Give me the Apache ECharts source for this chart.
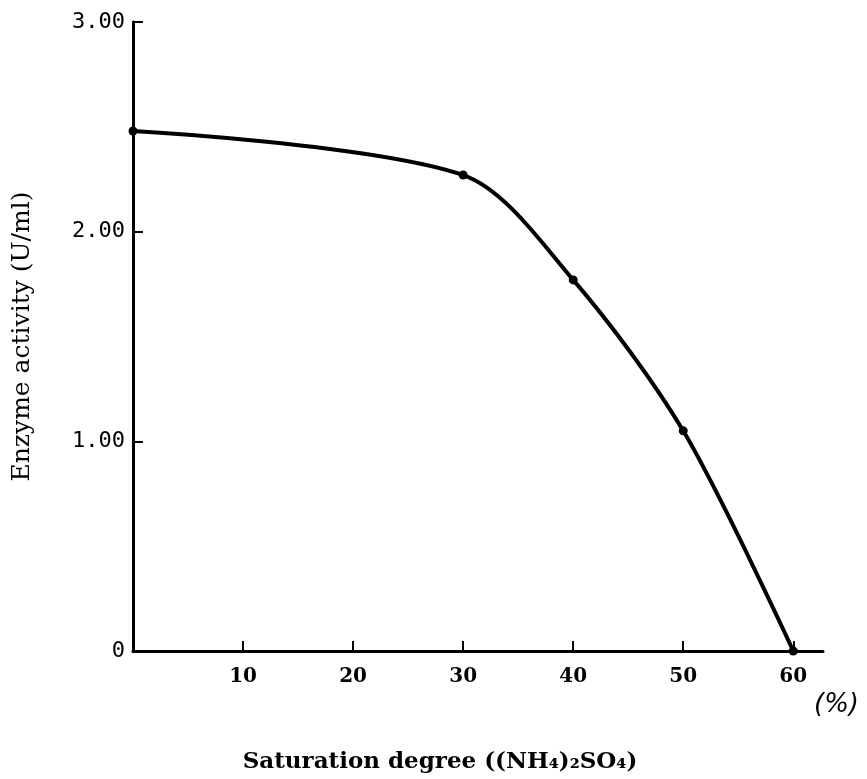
<!DOCTYPE html>
<html><head><meta charset="utf-8">
<script src="https://cdn.jsdelivr.net/npm/echarts@6/dist/echarts.min.js"></script>
<style>html,body{margin:0;padding:0;background:#fff}#c{width:867px;height:779px}</style>
</head><body><div id="c"></div>
<script>
const saturation = [0, 30, 40, 50, 60];
const activity = [2.48, 2.27, 1.77, 1.05, 0];
const xTicks = [10, 20, 30, 40, 50, 60];
const yTicks = [1, 2, 3];
const yLabels = [0, 1, 2, 3];
const xName = 'Saturation degree ((NH₄)₂SO₄)';
const yName = 'Enzyme activity (U/ml)';
const unitLabel = '(%)';

const chart = echarts.init(document.getElementById('c'));
chart.setOption({
  animation: false,
  backgroundColor: '#fff',
  grid: { left: 133, right: 44, top: 22, bottom: 126, containLabel: false },
  xAxis: {
    type: 'value', min: 0, max: 62.7,
    axisLine: { lineStyle: { color: '#000', width: 3 } },
    axisTick: { show: true, inside: true, length: 10, lineStyle: { color: '#000', width: 2 }, customValues: xTicks },
    axisLabel: { margin: 16, customValues: xTicks, fontFamily: 'DejaVu Serif', fontWeight: 'bold', fontSize: 20, color: '#000' },
    splitLine: { show: false },
    name: xName, nameLocation: 'middle', nameGap: 100,
    nameTextStyle: { fontFamily: 'DejaVu Serif', fontWeight: 'bold', fontSize: 23, color: '#000', padding: [0, 76, 0, 0] }
  },
  yAxis: {
    type: 'value', min: 0, max: 3,
    axisLine: { show: true, lineStyle: { color: '#000', width: 3 } },
    axisTick: { show: true, inside: true, length: 10, lineStyle: { color: '#000', width: 2 }, customValues: yTicks },
    axisLabel: { margin: 8, customValues: yLabels,
      formatter: v => v === 0 ? '0' : v.toFixed(2),
      fontFamily: 'DejaVu Sans Mono', fontSize: 22, color: '#000' },
    splitLine: { show: false },
    name: yName, nameLocation: 'middle', nameGap: 98,
    nameTextStyle: { fontFamily: 'DejaVu Serif', fontSize: 25, color: '#000' }
  },
  graphic: [{
    type: 'text', left: 814, top: 692,
    style: { text: unitLabel, fontFamily: 'DejaVu Sans', fontStyle: 'italic', fontSize: 26, fill: '#000' }
  }],
  series: [{
    type: 'line',
    data: saturation.map((x, i) => [x, activity[i]]),
    smooth: 0.3,
    symbol: 'circle', symbolSize: 9,
    itemStyle: { color: '#000' },
    lineStyle: { color: '#000', width: 4 }
  }]
});
</script></body></html>
